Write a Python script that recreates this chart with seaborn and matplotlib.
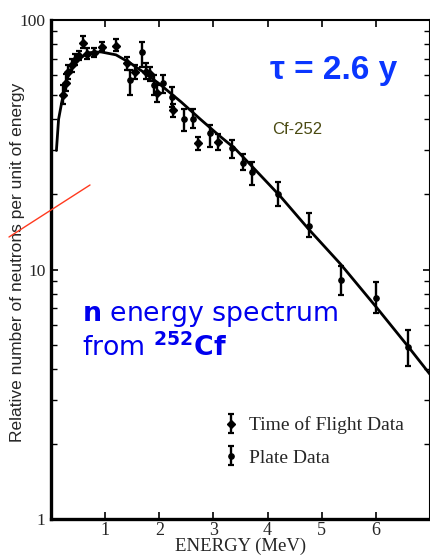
import numpy as np
import matplotlib
matplotlib.use("Agg")
import matplotlib.pyplot as plt
from matplotlib.lines import Line2D
import seaborn as sns

# ---- data ----
curve_E = [0.10, 0.14, 0.20, 0.29, 0.40, 0.55, 0.72, 0.92, 1.20, 1.45, 1.70, 2.00,
           2.40, 2.76, 3.10, 3.40, 3.72, 4.24, 4.76, 5.35, 6.00, 6.60, 7.00]
curve_N = [30, 40, 47, 58, 65, 71, 74, 74.5, 72.5, 67.5, 62, 55.5,
           47, 40, 34.5, 30.5, 25.8, 19.6, 14.5, 10.5, 7.1, 4.9, 3.8]

tof_E  = [0.22, 0.27, 0.31, 0.38, 0.45, 0.52, 0.60, 0.66, 0.80, 0.94, 1.20, 1.40, 1.55, 1.75, 1.83, 1.96, 2.26, 2.72, 3.09]
tof_N  = [50, 56, 62, 66, 69, 72, 81, 73, 74, 78, 79, 67, 62, 62, 61, 51, 43.6, 32, 32.5]
tof_lo = [46, 52, 58, 62, 66, 69, 77, 70, 71, 75, 75, 63, 58, 58, 57, 47, 41, 30, 30]
tof_hi = [55, 61, 66, 70, 73, 75, 86, 77, 77, 82, 84, 71, 66, 67, 65, 55, 46, 34, 35]

plate_E  = [1.46, 1.68, 1.91, 2.06, 2.24, 2.45, 2.63, 2.94, 3.35, 3.54, 3.72, 4.20, 4.76, 5.35, 6.00, 6.59]
plate_N  = [57.5, 74.5, 55, 56, 49, 40, 40, 35.3, 30.8, 26.8, 24.7, 20, 15, 9.1, 7.7, 4.9]
plate_lo = [50, 65, 50, 51, 45, 36, 37, 31, 28, 25, 21.9, 17.9, 13.5, 7.9, 6.7, 4.1]
plate_hi = [63, 82, 60, 60, 54, 44, 44, 38, 33, 29, 27, 22.5, 16.9, 10.3, 8.9, 5.7]

x_ticks = [1, 2, 3, 4, 5, 6]
y_ticks = [1, 10, 100]
y_tick_labels = ["1", "10", "100"]

# ---- style ----
sns.set_theme(style="ticks")
plt.rcParams["font.family"] = ["DejaVu Sans"]
plt.rcParams["mathtext.fontset"] = "custom"
plt.rcParams["mathtext.rm"] = "DejaVu Sans"
plt.rcParams["mathtext.bf"] = "DejaVu Sans:bold"

fig = plt.figure(figsize=(4.31, 5.59), dpi=100)
fig.patch.set_facecolor("white")
ax = fig.add_axes([51/431, 1-519/559, 379/431, 499/559])
ax.set_facecolor("white")

sns.lineplot(x=curve_E, y=curve_N, ax=ax, color="black", lw=2.0, sort=False)

def err(N, lo, hi):
    return [np.array(N) - np.array(lo), np.array(hi) - np.array(N)]

h1 = ax.errorbar(tof_E, tof_N, yerr=err(tof_N, tof_lo, tof_hi), fmt="D", ms=3.8,
                 color="black", ecolor="black", elinewidth=1.7, capsize=2.5, capthick=1.6,
                 label="Time of Flight Data")
h2 = ax.errorbar(plate_E, plate_N, yerr=err(plate_N, plate_lo, plate_hi), fmt="o", ms=3.8,
                 color="black", ecolor="black", elinewidth=1.7, capsize=2.5, capthick=1.6,
                 label="Plate Data")

ax.set_yscale("log")
ax.set_xlim(0, 7)
ax.set_ylim(1, 100)
ax.set_xticks(x_ticks)
ax.set_xticklabels([str(t) for t in x_ticks], family="Liberation Serif", fontsize=13)
ax.set_yticks(y_ticks)
ax.set_yticklabels(y_tick_labels, family="Liberation Serif", fontsize=12.5)
ax.tick_params(which="both", direction="in", top=True, right=True, color="black")
ax.tick_params(which="major", length=5, width=1.2, pad=4)
ax.tick_params(which="minor", length=4, width=1.0)
ax.tick_params(axis="x", which="minor", top=False, bottom=False)
ax.tick_params(axis="x", which="major", pad=2.5)

for side, lw in [("left", 2.4), ("bottom", 2.4), ("top", 1.5), ("right", 1.5)]:
    ax.spines[side].set_linewidth(lw)
    ax.spines[side].set_color("black")

ax.set_xlabel("ENERGY (MeV)", family="Liberation Serif", fontsize=13.5, labelpad=-1)
ax.set_ylabel("Relative number of neutrons per unit of energy", family="Liberation Sans",
              fontsize=12.5)
ax.yaxis.set_label_coords(-0.068, 0.515)

leg = ax.legend(handles=[h1, h2], loc="upper left", bbox_to_anchor=(0.43, 0.225),
                frameon=False, prop={"family": "Liberation Serif", "size": 14},
                handlelength=0.8, handletextpad=0.5, labelspacing=0.75, borderpad=0)

ax.text(4.04, 63, "τ = 2.6 y", color="#0a36ff", fontsize=24, fontweight="bold",
        family=["Liberation Sans", "DejaVu Sans"], ha="left", va="center")
ax.text(4.09, 36.3, "Cf-252", color="#4a4a12", fontsize=12, family="Liberation Sans",
        ha="left", va="center")
ax.text(0.58, 6.6, r"$\mathbf{n}$ energy spectrum", color="#0000ee", fontsize=19.3,
        ha="left", va="center")
ax.text(0.58, 4.85, r"from $^{\mathbf{252}}\mathbf{Cf}$", color="#0000ee", fontsize=19.3,
        ha="left", va="center")

fig.add_artist(Line2D([9/431, 90/431], [1-237/559, 1-185/559], color="#ff3a1f", lw=1.0,
                      transform=fig.transFigure))

fig.savefig("out.png", dpi=100, facecolor="white")
